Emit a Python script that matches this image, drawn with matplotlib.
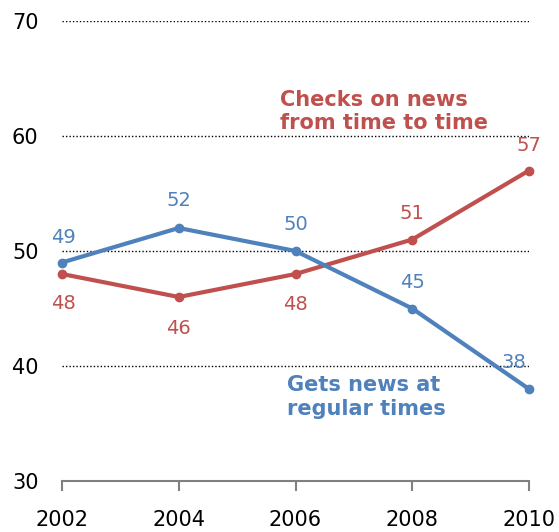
import matplotlib
matplotlib.use("Agg")
import matplotlib.pyplot as plt

years = [2002, 2004, 2006, 2008, 2010]
regular = [49, 52, 50, 45, 38]
checks = [48, 46, 48, 51, 57]
yticks = [30, 40, 50, 60, 70]

blue = "#4f81bd"
red = "#c0504d"

plt.rcParams['font.family'] = ['DejaVu Sans']
fig = plt.figure(figsize=(5.59, 5.32), dpi=100)
ax = fig.add_axes([62/559, 51/532, 467/559, 460/532])
ax.set_xlim(2002, 2010)
ax.set_ylim(30, 70)

for y in yticks[1:]:
    ax.axhline(y, color="black", lw=1.0, ls=(0, (1, 1.5)), zorder=1)

ax.plot(years, checks, color=red, lw=3, marker="o", ms=6, clip_on=False, zorder=3)
ax.plot(years, regular, color=blue, lw=3, marker="o", ms=6, clip_on=False, zorder=4)

blue_off = [(1, 18), (0, 20), (0, 19), (0, 19), (-11, 19)]
red_off = [(1, -21), (0, -23), (0, -22), (0, 19), (0, 18)]
for x, v, o in zip(years, regular, blue_off):
    ax.annotate(str(v), (x, v), xytext=o, textcoords="offset points",
                ha="center", va="center", color=blue, fontsize=14, annotation_clip=False)
for x, v, o in zip(years, checks, red_off):
    ax.annotate(str(v), (x, v), xytext=o, textcoords="offset points",
                ha="center", va="center", color=red, fontsize=14, annotation_clip=False)

ax.text(2005.73, 62.1, "Checks on news\nfrom time to time", color=red, fontsize=15,
        fontweight="bold", ha="left", va="center", linespacing=1.2)
ax.text(2005.85, 37.3, "Gets news at\nregular times", color=blue, fontsize=15,
        fontweight="bold", ha="left", va="center", linespacing=1.2)

ax.set_xticks(years)
ax.set_xticklabels([str(y) for y in years])
ax.set_yticks(yticks)
for s in ["top", "right", "left"]:
    ax.spines[s].set_visible(False)
ax.spines["bottom"].set_color("#808080")
ax.spines["bottom"].set_linewidth(1.5)
ax.tick_params(axis="x", direction="out", length=7, width=1.5, color="#808080",
               labelsize=15, pad=14, labelcolor="black")
ax.tick_params(axis="y", length=0, labelsize=15, pad=17, labelcolor="black")

fig.savefig("out.png", dpi=100)
